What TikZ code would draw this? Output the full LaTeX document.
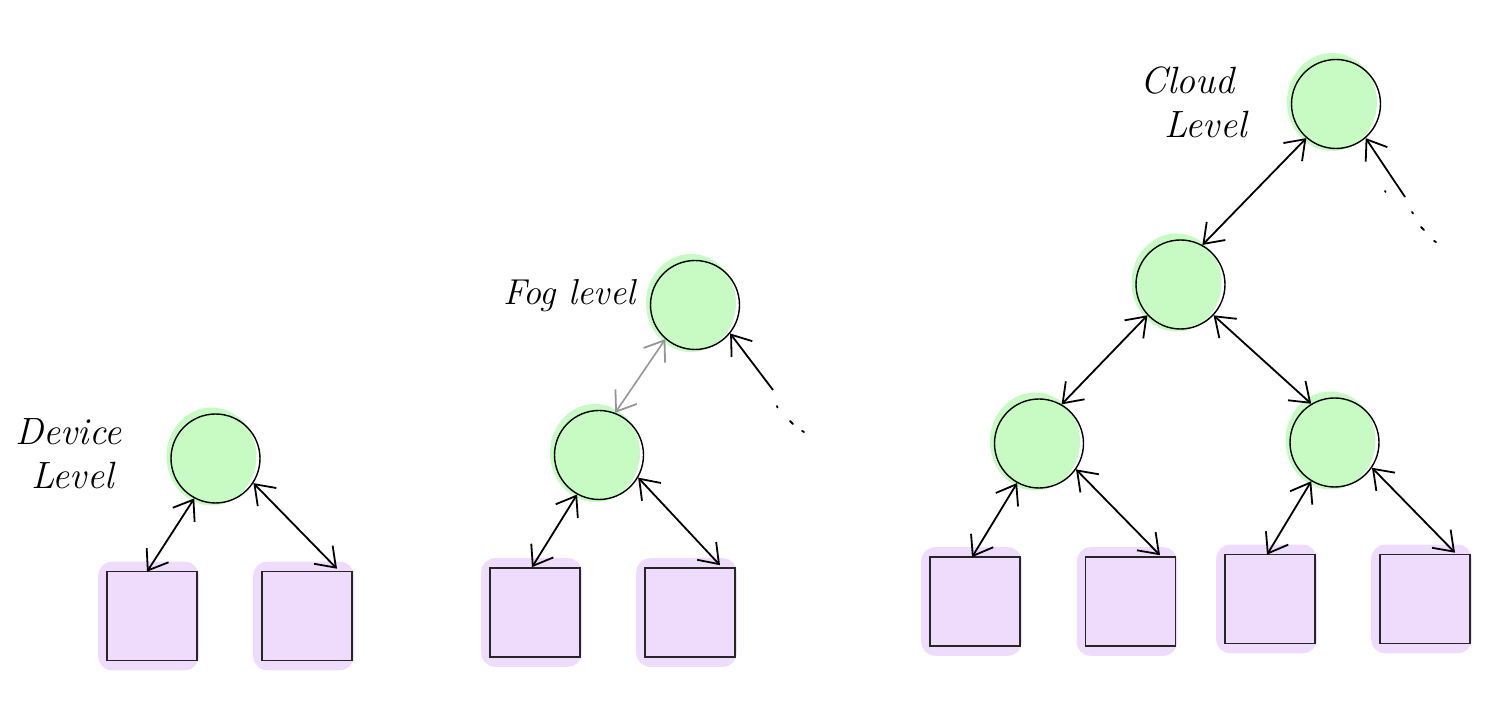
\documentclass[tikz,border=0pt]{standalone}
\usetikzlibrary{arrows.meta,calc,backgrounds}
\definecolor{leaf}{RGB}{200,250,196}
\definecolor{lilac}{RGB}{239,220,253}
\definecolor{greyarrow}{RGB}{150,150,150}
\begin{document}
\begin{tikzpicture}[x=0.5pt,y=-0.5pt,
  hub/.style={circle,draw=black,line width=0.7pt,minimum size=44.5pt,inner sep=0pt},
  dev/.style={rectangle,draw=black!85,line width=0.8pt,minimum width=45pt,minimum height=44.5pt,inner sep=0pt},
  barb/.tip={Straight Barb[length=9pt,width=13pt,line width=0.9pt]},
  link/.style={line width=0.9pt,barb-barb},
  inlink/.style={line width=0.9pt,-barb},
  greylink/.style={line width=0.8pt,draw=greyarrow,barb-barb},
  leafblob/.style={fill=leaf},
  lilacblob/.style={fill=lilac,rounded corners=7pt},
  lbl/.style={font=\itshape\fontsize{19}{22}\selectfont,inner sep=0pt,align=left},
  dotmark/.style={line width=0.9pt,line cap=round}
]
\useasboundingbox (0,0) rectangle (1500,704);

% ---------- Device level ----------
\node[hub] (dv) at (215.5,458.5) {};
\node[dev] (dvL) at (152,616) {};
\node[dev] (dvR) at (307,616) {};
\node[lbl,anchor=north west] (lblDev) at (15,418) {Device\\[0pt]\hspace*{8pt}Level};

% ---------- Fog level ----------
\node[hub] (fb) at (599,455) {};
\node[hub] (ft) at (695,305) {};
\node[dev] (fbL) at (535,612.5) {};
\node[dev] (fbR) at (690,612.5) {};
\node[lbl,font=\itshape\fontsize{18}{22}\selectfont,anchor=base west] (lblFog) at (503,305) {Fog level};
\coordinate (ftTail) at (773,390);

% ---------- Cloud level ----------
\node[hub] (ct) at (1336,104) {};
\node[hub] (cm) at (1180.5,284.5) {};
\node[hub] (cl) at (1039,443.5) {};
\node[hub] (cr) at (1334.5,442.5) {};
\node[dev] (clL) at (975,601.5) {};
\node[dev] (clR) at (1130.5,601.5) {};
\node[dev] (crL) at (1270,599) {};
\node[dev] (crR) at (1425,599) {};
\node[lbl,anchor=north west] (lblCloud) at (1140,66) {Cloud\\[0pt]\hspace*{12pt}Level};
\coordinate (ctTail) at (1405,197);

% ---------- blobs ----------
\begin{scope}[on background layer]
  \foreach \c in {dv,fb,ft,ct,cm,cl,cr}
    \fill[leafblob] ([shift={(-4,-2)}]\c.center) ellipse [x radius=22.5pt, y radius=24.5pt];
  \foreach \s in {dvL,dvR,fbL,fbR,clL,clR,crL,crR}
    \fill[lilacblob] ([shift={(-8,9)}]\s.south west) rectangle ([shift={(1,-9)}]\s.north east);
\end{scope}

% ---------- connectors ----------
\draw[link] ($(dvL.north)+(-5,1)$) -- (dv.-118.5);
\draw[link] (dv.-33) -- ($(dvR.north)+(30,-2)$);

\draw[link] ($(fbL.north)+(-3,0)$) -- (fb.-119);
\draw[link] (fb.-30) -- ($(fbR.north)+(30,-2)$);
\draw[greylink] (fb.69) -- (ft.-131);
\draw[inlink] (ftTail) -- (ft.-39);

\draw[link] (cm.61) -- (ct.-131);
\draw[inlink] (ctTail) -- (ct.-49);
\draw[link] (cl.60) -- (cm.-137);
\draw[link] (cm.-43) -- (cr.121);
\draw[link] ($(clL.north)+(-3,1)$) -- (cl.-119);
\draw[link] (cl.-35) -- ($(clR.north)+(29.5,-1)$);
\draw[link] ($(crL.north)+(-3,1)$) -- (cr.-121);
\draw[link] (cr.-34) -- ($(crR.north)+(30,-1)$);

% ---------- trailing dots ----------
\draw[dotmark] (777,406) -- (777.5,407.5);
\draw[dotmark] (790,421) -- (793,424);
\draw[dotmark] (802,431) -- (804,432);
\draw[dotmark] (1385,191) -- (1385.5,192);
\draw[dotmark] (1412,212) -- (1413,213.5);
\draw[dotmark] (1421,227) -- (1424,230);
\draw[dotmark] (1434,241) -- (1436,242);
\end{tikzpicture}
\end{document}
